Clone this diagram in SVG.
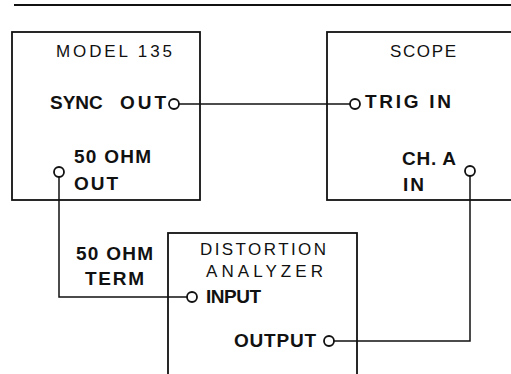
<svg xmlns="http://www.w3.org/2000/svg" width="511" height="374" viewBox="0 0 511 374">
<style>
.box{fill:none;stroke:#111;stroke-width:1.8}
.wire{fill:none;stroke:#111;stroke-width:1.5}
.jack{fill:#fff;stroke:#111;stroke-width:1.8}
.t{font-family:"Liberation Sans",Arial,sans-serif;fill:#111}
.n{font-size:17px;font-weight:normal}
.b{font-size:19px;font-weight:bold}
</style>
<rect width="511" height="374" fill="#fff"/>
<line x1="14" y1="5" x2="511" y2="5" stroke="#111" stroke-width="2"/>
<g id="connectors">
<polyline class="wire" points="179,104 350,104"/>
<polyline class="wire" points="59,177 59,297 187,297"/>
<polyline class="wire" points="470,176 470,341 334,341"/>
</g>
<g id="model135">
<rect class="box" x="12" y="32" width="188" height="168"/>
<text class="t n" x="56" y="57" textLength="116" lengthAdjust="spacing">MODEL 135</text>
<text class="t b" x="50" y="109">SYNC <tspan x="120" textLength="46" lengthAdjust="spacing">OUT</tspan></text>
<text class="t b" x="74" y="163" textLength="77" lengthAdjust="spacing">50 OHM</text>
<text class="t b" x="74" y="190" textLength="44" lengthAdjust="spacing">OUT</text>
<circle class="jack" cx="174" cy="104" r="5"/>
<circle class="jack" cx="59" cy="172" r="5"/>
</g>
<g id="scope">
<rect class="box" x="327" y="32" width="200" height="168"/>
<text class="t n" x="390" y="57" textLength="66" lengthAdjust="spacing">SCOPE</text>
<text class="t b" x="365" y="108" textLength="86" lengthAdjust="spacing">TRIG IN</text>
<text class="t b" x="402" y="165" textLength="54" lengthAdjust="spacing">CH. A</text>
<text class="t b" x="403" y="191" textLength="21" lengthAdjust="spacing">IN</text>
<circle class="jack" cx="355" cy="104" r="5"/>
<circle class="jack" cx="470" cy="171" r="5"/>
</g>
<g id="term">
<text class="t b" x="76" y="260" textLength="77" lengthAdjust="spacing">50 OHM</text>
<text class="t b" x="85" y="285" textLength="59" lengthAdjust="spacing">TERM</text>
</g>
<g id="analyzer">
<rect class="box" x="168" y="233" width="189" height="160"/>
<text class="t n" x="200" y="255" textLength="126" lengthAdjust="spacing">DISTORTION</text>
<text class="t n" x="206" y="277" textLength="117" lengthAdjust="spacing">ANALYZER</text>
<text class="t b" x="206" y="303" textLength="55" lengthAdjust="spacing">INPUT</text>
<text class="t b" x="234" y="347" textLength="82" lengthAdjust="spacing">OUTPUT</text>
<circle class="jack" cx="192" cy="297" r="5"/>
<circle class="jack" cx="329" cy="341" r="5"/>
</g>
</svg>
